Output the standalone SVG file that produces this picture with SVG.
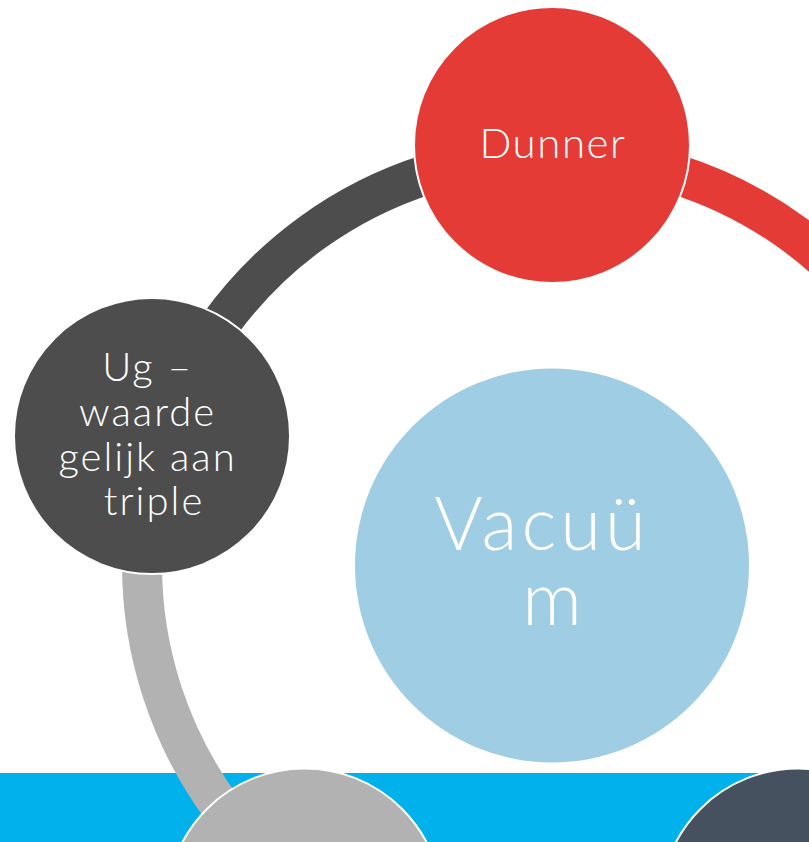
<svg xmlns="http://www.w3.org/2000/svg" width="809" height="842" viewBox="0 0 809 842">
<style>
.node{stroke:#FFFFFF;stroke-width:2}
.arc{fill:none;stroke-width:40;stroke-linecap:butt}
.lbl{font-family:"Lato","Open Sans","Liberation Sans",sans-serif;font-weight:300;fill:#FFFFFF;text-anchor:middle}
</style>
<rect x="0" y="0" width="809" height="842" fill="#FFFFFF"/>
<rect id="band" x="0" y="773" width="809" height="69" fill="#00B1EB"/>
<g id="connectors">
<path class="arc" stroke="#E53B37" d="M552,155 A410,410 0 0 1 941.9,438.3"/>
<path class="arc" stroke="#4D4D4D" d="M162.1,438.3 A410,410 0 0 1 552,155"/>
<path class="arc" stroke="#B2B2B2" d="M311,896.7 A410,410 0 0 1 162.1,438.3"/>
</g>
<g id="vacuum">
<circle cx="552" cy="565.5" r="197" fill="#9FCDE4"/>
<text class="lbl" font-size="74" letter-spacing="4">
<tspan x="554" y="550">Vacuü</tspan>
<tspan x="554" y="625">m</tspan>
</text>
</g>
<g id="dunner">
<circle class="node" cx="552" cy="145" r="138" fill="#E53B37"/>
<text class="lbl" x="553" y="158" font-size="42" letter-spacing="1.6">Dunner</text>
</g>
<g id="ug">
<circle class="node" cx="152" cy="436" r="138" fill="#4D4D4D"/>
<text class="lbl" font-size="40" letter-spacing="2">
<tspan x="154" y="381">Ug –</tspan>
<tspan x="154" y="426">waarde</tspan>
<tspan x="154" y="471">gelijk aan</tspan>
<tspan x="154" y="515">triple</tspan>
</text>
</g>
<g id="node-bottom-left">
<circle class="node" cx="304.5" cy="906.5" r="138" fill="#B2B2B2"/>
</g>
<g id="node-bottom-right">
<circle class="node" cx="798" cy="906.5" r="138" fill="#45515F"/>
</g>
</svg>
